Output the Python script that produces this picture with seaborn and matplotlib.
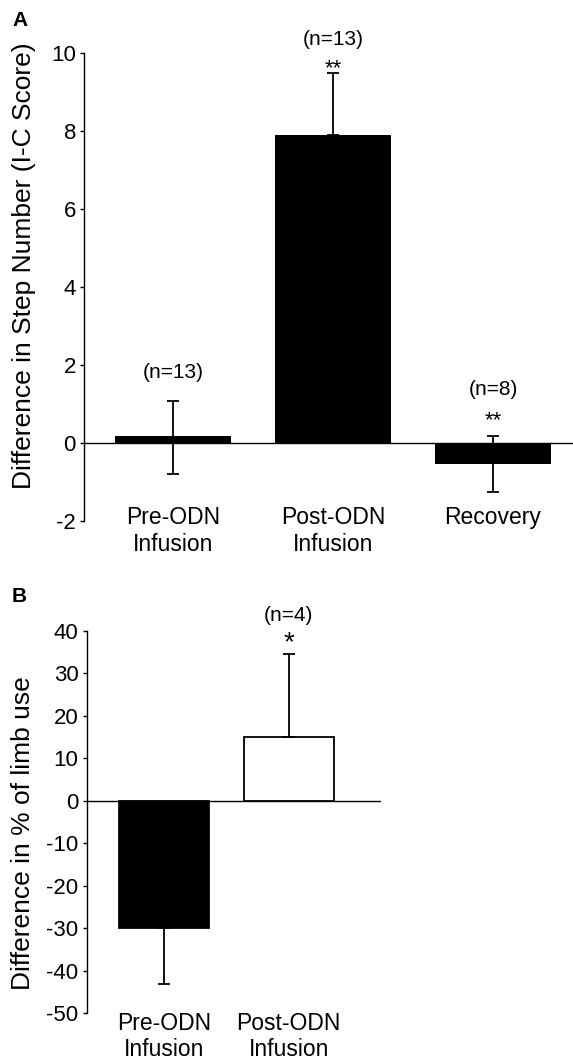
import numpy as np
import pandas as pd
import matplotlib
matplotlib.use('Agg')
import matplotlib.pyplot as plt
import seaborn as sns

# Panel A - step test (I-C score)
a_groups = ['Pre-ODN\nInfusion', 'Post-ODN\nInfusion', 'Recovery']
a_mean = [0.17, 7.88, -0.54]
a_err_lo = [0.97, 0.0, 0.72]
a_err_hi = [0.91, 1.6, 0.73]
a_n = ['(n=13)', '(n=13)', '(n=8)']
a_stars = ['', '**', '**']
a_ticks = [-2, 0, 2, 4, 6, 8, 10]

# Panel B - limb use
b_groups = ['Pre-ODN\nInfusion', 'Post-ODN\nInfusion']
b_mean = [-30.0, 15.0]
b_err_lo = [13.2, 0.0]
b_err_hi = [0.0, 19.5]
b_n = ['', '(n=4)']
b_stars = ['', '*']
b_ticks = [-50, -40, -30, -20, -10, 0, 10, 20, 30, 40]
b_colors = ['black', 'white']

sns.set_style('white')
plt.rcParams['font.family'] = ['Liberation Sans', 'DejaVu Sans']
plt.rcParams['axes.unicode_minus'] = False
plt.rcParams['text.color'] = 'black'

fig = plt.figure(figsize=(5.73, 10.6), dpi=100)
ax1 = fig.add_axes([0.1471, 0.5085, 0.853, 0.4418])
ax2 = fig.add_axes([0.1513, 0.0441, 0.5136, 0.3610])

# --- A ---
dfa = pd.DataFrame({'group': a_groups, 'value': a_mean})
sns.barplot(data=dfa, x='group', y='value', color='black', saturation=1,
            width=0.725, errorbar=None, linewidth=0, ax=ax1)
ax1.errorbar(range(len(a_mean)), a_mean, yerr=[a_err_lo, a_err_hi], fmt='none',
             ecolor='black', elinewidth=1.3, capsize=4, capthick=1.3, zorder=3)
ax1.axhline(0, color='black', lw=1, zorder=0.5)
ax1.set_ylim(-2, 10)
ax1.set_xlim(-0.554, 2.5)
ax1.set_yticks(a_ticks)

# n labels and significance stars
a_n_y = [1.80, 10.34, 1.38]
a_star_y = [0, 9.45, 0.43]
for i in range(len(a_groups)):
    ax1.text(i, a_n_y[i], a_n[i], ha='center', va='center', fontsize=15)
    if a_stars[i]:
        ax1.text(i, a_star_y[i], a_stars[i], ha='center', va='baseline', fontsize=16)

# --- B ---
dfb = pd.DataFrame({'group': b_groups, 'value': b_mean})
sns.barplot(data=dfb, x='group', y='value', hue='group', palette=b_colors, saturation=1,
            width=0.72, errorbar=None, edgecolor='black', linewidth=1.3, legend=False, ax=ax2)
ax2.errorbar(range(len(b_mean)), b_mean, yerr=[b_err_lo, b_err_hi], fmt='none',
             ecolor='black', elinewidth=1.3, capsize=4, capthick=1.3, zorder=3)
ax2.axhline(0, color='black', lw=1, zorder=0.5)
ax2.set_ylim(-50, 40)
ax2.set_xlim(-0.62, 1.74)
ax2.set_yticks(b_ticks)

b_n_y = [0, 43.46]
b_star_y = [0, 35.5]
for i in range(len(b_groups)):
    if b_n[i]:
        ax2.text(i, b_n_y[i], b_n[i], ha='center', va='center', fontsize=15)
    if b_stars[i]:
        ax2.text(i, b_star_y[i], b_stars[i], ha='center', va='baseline', fontsize=20)

for ax, pad in [(ax1, -10.8), (ax2, -1.2)]:
    sns.despine(ax=ax, bottom=True)
    ax.spines['left'].set_color('black')
    ax.spines['left'].set_linewidth(1)
    ax.set_xlabel('')
    ax.set_ylabel('')
    ax.tick_params(axis='y', left=True, direction='out', length=3, width=1,
                   labelsize=16, pad=3, colors='black')
    ax.tick_params(axis='x', bottom=False, length=0, pad=pad, labelsize=16.5,
                   colors='black')
    ax.patch.set_alpha(0)

fig.text(24 / 573, 1 - 266 / 1060, 'Difference in Step Number (I-C Score)',
         rotation=90, ha='center', va='center', fontsize=19)
fig.text(23 / 573, 1 - 833 / 1060, 'Difference in % of limb use',
         rotation=90, ha='center', va='center', fontsize=19)
fig.text(20.5 / 573, 1 - 20.5 / 1060, 'A', ha='center', va='center', fontsize=15, fontweight='bold')
fig.text(19 / 573, 1 - 596 / 1060, 'B', ha='center', va='center', fontsize=15, fontweight='bold')

fig.savefig('out.png', dpi=100)
